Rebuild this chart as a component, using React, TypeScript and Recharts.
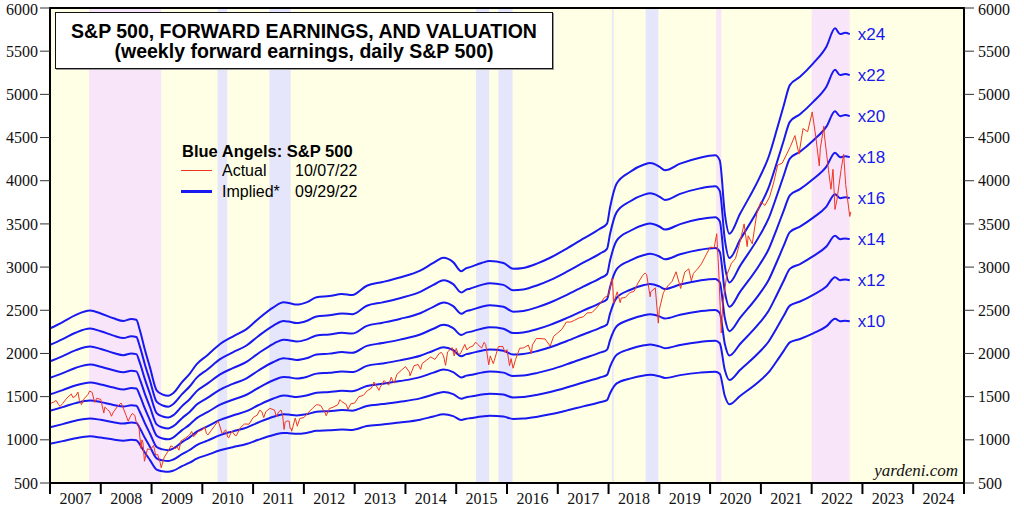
import { LineChart, Line, XAxis, YAxis, ReferenceArea } from 'recharts';

const fwdEps: [number, number][] = [
  [2007.0, 95.4], [2007.25, 98.5], [2007.5, 101.8], [2007.79, 104.0], [2008.0, 102.6],
  [2008.25, 100.3], [2008.45, 99.0], [2008.6, 100.0], [2008.7, 99.6], [2008.77, 94.5],
  [2008.87, 85.0], [2008.97, 76.5], [2009.1, 65.5], [2009.22, 63.5], [2009.33, 62.9],
  [2009.43, 64.3], [2009.6, 69.5], [2009.75, 73.5], [2009.89, 78.2], [2010.1, 82.5],
  [2010.35, 87.9], [2010.6, 91.5], [2010.87, 95.1], [2011.1, 100.0], [2011.4, 105.6],
  [2011.6, 108.0], [2011.7, 107.7], [2011.86, 106.9], [2012.05, 108.0], [2012.25, 110.4],
  [2012.5, 111.0], [2012.75, 112.0], [2012.95, 111.5], [2013.24, 116.0], [2013.55, 117.8],
  [2013.89, 120.0], [2014.29, 123.3], [2014.55, 127.0], [2014.75, 129.5], [2014.94, 127.4],
  [2015.1, 123.0], [2015.2, 124.5], [2015.27, 125.0], [2015.5, 127.0], [2015.66, 127.9],
  [2015.93, 127.0], [2016.12, 124.2], [2016.32, 124.6], [2016.6, 126.8], [2016.85, 129.5],
  [2017.17, 133.8], [2017.5, 138.7], [2017.83, 143.5], [2017.97, 146.0], [2018.03, 153.9],
  [2018.16, 165.3], [2018.42, 170.9], [2018.7, 174.5], [2018.82, 175.2], [2019.0, 173.5],
  [2019.11, 171.7], [2019.41, 174.9], [2019.8, 177.8], [2020.1, 178.9], [2020.19, 176.5],
  [2020.29, 150.7], [2020.38, 141.1], [2020.59, 150.7], [2020.98, 168.5], [2021.15, 178.0],
  [2021.31, 191.0], [2021.45, 203.0], [2021.57, 212.8], [2021.77, 216.8], [2022.03, 223.3],
  [2022.29, 231.3], [2022.46, 240.2], [2022.56, 237.4], [2022.66, 238.0], [2022.75, 237.4],
];

// S&P 500 actual, [decimal year, index]
const spx: [number, number][] = [
  [2007.0, 1418], [2007.04, 1430], [2007.08, 1438], [2007.12, 1456], [2007.17, 1407], [2007.2, 1387],
  [2007.25, 1421], [2007.33, 1482], [2007.42, 1530], [2007.45, 1490], [2007.5, 1503], [2007.55, 1553],
  [2007.58, 1455], [2007.62, 1407], [2007.67, 1474], [2007.75, 1527], [2007.78, 1565], [2007.83, 1549],
  [2007.88, 1433], [2007.92, 1481], [2008.0, 1468], [2008.06, 1310], [2008.08, 1379], [2008.13, 1350],
  [2008.17, 1331], [2008.21, 1273], [2008.25, 1323], [2008.33, 1386], [2008.4, 1426], [2008.42, 1400],
  [2008.5, 1280], [2008.54, 1215], [2008.58, 1267], [2008.62, 1305], [2008.67, 1283], [2008.7, 1200],
  [2008.75, 1166], [2008.79, 900], [2008.81, 1000], [2008.83, 969], [2008.86, 752], [2008.92, 896],
  [2008.96, 888], [2009.0, 903], [2009.04, 935], [2009.08, 826], [2009.12, 830], [2009.17, 735],
  [2009.19, 677], [2009.25, 798], [2009.33, 873], [2009.38, 930], [2009.42, 919], [2009.46, 895],
  [2009.5, 919], [2009.54, 880], [2009.58, 987], [2009.67, 1021], [2009.75, 1057], [2009.79, 1097],
  [2009.83, 1036], [2009.92, 1096], [2010.0, 1115], [2010.05, 1150], [2010.08, 1074], [2010.11, 1056],
  [2010.17, 1104], [2010.25, 1169], [2010.31, 1217], [2010.33, 1187], [2010.39, 1071], [2010.42, 1089],
  [2010.46, 1116], [2010.5, 1031], [2010.52, 1022], [2010.58, 1102], [2010.65, 1048], [2010.67, 1049],
  [2010.75, 1141], [2010.83, 1183], [2010.92, 1181], [2011.0, 1258], [2011.08, 1286], [2011.13, 1343],
  [2011.17, 1327], [2011.21, 1257], [2011.25, 1326], [2011.33, 1364], [2011.42, 1345], [2011.46, 1268],
  [2011.5, 1321], [2011.55, 1345], [2011.58, 1292], [2011.61, 1120], [2011.63, 1204], [2011.67, 1219],
  [2011.71, 1216], [2011.73, 1129], [2011.75, 1131], [2011.76, 1099], [2011.83, 1253], [2011.87, 1158],
  [2011.92, 1247], [2012.0, 1258], [2012.08, 1312], [2012.17, 1366], [2012.25, 1408], [2012.33, 1398],
  [2012.42, 1310], [2012.44, 1278], [2012.5, 1362], [2012.58, 1379], [2012.67, 1407], [2012.71, 1465],
  [2012.75, 1441], [2012.83, 1412], [2012.87, 1353], [2012.92, 1416], [2013.0, 1426], [2013.08, 1498],
  [2013.17, 1515], [2013.25, 1569], [2013.33, 1598], [2013.38, 1669], [2013.42, 1631], [2013.48, 1573],
  [2013.5, 1606], [2013.58, 1686], [2013.67, 1633], [2013.72, 1725], [2013.75, 1682], [2013.78, 1656],
  [2013.83, 1757], [2013.92, 1806], [2014.0, 1848], [2014.08, 1783], [2014.09, 1741], [2014.17, 1859],
  [2014.25, 1872], [2014.3, 1815], [2014.33, 1884], [2014.42, 1924], [2014.5, 1960], [2014.58, 1931],
  [2014.67, 2003], [2014.71, 2011], [2014.75, 1972], [2014.79, 1862], [2014.83, 2018], [2014.92, 2068],
  [2014.96, 1972], [2015.0, 2059], [2015.04, 1992], [2015.08, 1995], [2015.17, 2105], [2015.21, 2040],
  [2015.25, 2068], [2015.33, 2086], [2015.38, 2131], [2015.42, 2107], [2015.5, 2063], [2015.55, 2129],
  [2015.58, 2104], [2015.64, 1868], [2015.67, 1972], [2015.73, 1882], [2015.75, 1920], [2015.83, 2079],
  [2015.92, 2080], [2015.96, 2013], [2016.0, 2044], [2016.05, 1859], [2016.08, 1940], [2016.12, 1829],
  [2016.17, 1932], [2016.25, 2060], [2016.33, 2065], [2016.42, 2097], [2016.48, 2001], [2016.5, 2099],
  [2016.58, 2174], [2016.67, 2171], [2016.75, 2168], [2016.85, 2085], [2016.92, 2199], [2017.0, 2239],
  [2017.08, 2279], [2017.17, 2364], [2017.25, 2363], [2017.33, 2384], [2017.42, 2412], [2017.5, 2423],
  [2017.58, 2470], [2017.67, 2472], [2017.75, 2519], [2017.83, 2575], [2017.92, 2648], [2018.0, 2674],
  [2018.07, 2873], [2018.08, 2824], [2018.1, 2581], [2018.17, 2714], [2018.23, 2588], [2018.25, 2641],
  [2018.33, 2648], [2018.42, 2705], [2018.5, 2718], [2018.58, 2816], [2018.67, 2902], [2018.72, 2931],
  [2018.75, 2914], [2018.82, 2656], [2018.83, 2712], [2018.92, 2760], [2018.98, 2351], [2019.0, 2507],
  [2019.08, 2704], [2019.17, 2784], [2019.25, 2834], [2019.33, 2946], [2019.42, 2752], [2019.5, 2942],
  [2019.58, 2980], [2019.63, 2840], [2019.67, 2926], [2019.75, 2977], [2019.83, 3038], [2019.92, 3141],
  [2020.0, 3231], [2020.08, 3226], [2020.13, 3386], [2020.17, 2954], [2020.22, 2237], [2020.25, 2585],
  [2020.33, 2912], [2020.42, 3044], [2020.5, 3100], [2020.58, 3271], [2020.67, 3500], [2020.73, 3237],
  [2020.75, 3363], [2020.83, 3270], [2020.92, 3622], [2021.0, 3756], [2021.08, 3714], [2021.17, 3811],
  [2021.25, 3973], [2021.33, 4181], [2021.42, 4204], [2021.5, 4298], [2021.58, 4395], [2021.67, 4523],
  [2021.75, 4308], [2021.83, 4605], [2021.92, 4567], [2022.0, 4766], [2022.01, 4797], [2022.08, 4516],
  [2022.15, 4171], [2022.17, 4374], [2022.24, 4631], [2022.25, 4530], [2022.33, 4132], [2022.38, 3901],
  [2022.42, 4132], [2022.46, 3667], [2022.5, 3785], [2022.58, 4130], [2022.63, 4305], [2022.67, 3955],
  [2022.75, 3586], [2022.77, 3639],
];

const multiples = [10, 12, 14, 16, 18, 20, 22, 24];
const yTicks = [500, 1000, 1500, 2000, 2500, 3000, 3500, 4000, 4500, 5000, 5500, 6000];
const yearTicks = [2007, 2008, 2009, 2010, 2011, 2012, 2013, 2014, 2015, 2016, 2017, 2018, 2019, 2020, 2021, 2022, 2023, 2024, 2025];
const bearMarkets: [number, number][] = [[2007.77, 2009.19], [2020.12, 2020.22], [2022.0, 2022.75]];
const corrections: [number, number][] = [
  [2010.3, 2010.49], [2011.32, 2011.74], [2015.39, 2015.65], [2015.83, 2016.11], [2018.07, 2018.1], [2018.73, 2018.98],
];

const impliedData = fwdEps.map(([t, e]) => {
  const row: Record<string, number> = { t };
  multiples.forEach(m => { row['x' + m] = e * m; });
  return row;
});
const spxData = spx.map(([t, v]) => ({ t, spx: v }));

const W = 1024;
const H = 519;
const PLOT_L = 50;
const PLOT_R = 964;
const HALF_YEAR = (PLOT_R - PLOT_L) / 18 / 2;

const SANS = '"Liberation Sans", Arial, sans-serif';
const SERIF = '"Liberation Serif", "Times New Roman", serif';
const BLUE = '#1818f0';
const RED = '#ee3524';

const YearTick = (props: any) => {
  const { x, y, payload } = props;
  if (payload.value >= 2025) return <g />;
  return (
    <text x={x + HALF_YEAR} y={y + 8} textAnchor="middle" fontSize={16} fontFamily={SERIF} fill="#111">
      {payload.value}
    </text>
  );
};

export default function App() {
  const last = impliedData.length - 1;
  return (
    <div style={{ position: 'absolute', left: 0, top: 0, width: W, height: H, background: '#fff', overflow: 'hidden' }}>
      <LineChart width={W} height={H} data={impliedData} margin={{ top: 8, right: 0, bottom: 0, left: 0 }}>
        <XAxis
          dataKey="t" type="number" domain={[2007, 2025]} ticks={yearTicks} allowDataOverflow
          height={36} tickSize={11} tickMargin={2} tick={<YearTick />}
          axisLine={{ stroke: '#000', strokeWidth: 2 }} tickLine={{ stroke: '#000', strokeWidth: 2 }}
        />
        <YAxis
          yAxisId="l" orientation="left" domain={[500, 6000]} ticks={yTicks} width={PLOT_L} allowDataOverflow
          tickSize={10} tickMargin={2} tick={{ fill: '#111', fontSize: 16, fontFamily: SERIF }}
          axisLine={{ stroke: '#000', strokeWidth: 2 }} tickLine={{ stroke: '#333', strokeWidth: 1 }}
        />
        <YAxis
          yAxisId="r" orientation="right" domain={[500, 6000]} ticks={yTicks} width={W - PLOT_R} allowDataOverflow
          tickSize={10} tickMargin={4} tick={{ fill: '#111', fontSize: 16, fontFamily: SERIF }}
          axisLine={{ stroke: '#000', strokeWidth: 2 }} tickLine={{ stroke: '#333', strokeWidth: 1 }}
        />
        <ReferenceArea yAxisId="l" x1={2007} x2={2025} y1={500} y2={6000} fill="#ffffe6" fillOpacity={1} stroke="none" />
        {bearMarkets.map(([a, b], i) => (
          <ReferenceArea key={'b' + i} yAxisId="l" x1={a} x2={b} y1={500} y2={6000} fill="#f9e5fa" fillOpacity={1} stroke="none" />
        ))}
        {corrections.map(([a, b], i) => (
          <ReferenceArea key={'c' + i} yAxisId="l" x1={a} x2={b} y1={500} y2={6000} fill="#e5e6fb" fillOpacity={1} stroke="none" />
        ))}
        {multiples.map(m => (
          <Line
            key={m} yAxisId="l" dataKey={'x' + m} type="monotone" stroke={BLUE} strokeWidth={2}
            dot={false} activeDot={false} isAnimationActive={false}
            label={(p: any) =>
              p.index === last ? (
                <text key={'lab' + m} x={p.x + 8} y={p.y} dy={6} fill={BLUE} fontSize={17} fontFamily={SANS}>
                  {'x' + m}
                </text>
              ) : (
                <g key={'n' + m + '-' + p.index} />
              )
            }
          />
        ))}
        <Line
          yAxisId="l" data={spxData} dataKey="spx" type="linear" stroke={RED} strokeWidth={1}
          dot={false} activeDot={false} isAnimationActive={false}
        />
        <ReferenceArea yAxisId="l" x1={2007} x2={2025} y1={500} y2={6000} fill="none" stroke="#000" strokeWidth={2} />
      </LineChart>

      <div style={{
        position: 'absolute', left: 55, top: 12, width: 498, height: 57, border: '1.5px solid #111',
        background: '#fff', boxShadow: '1px 1px 0 #999', fontFamily: SANS, fontWeight: 700, fontSize: 19.5,
        lineHeight: '20px', textAlign: 'center', paddingTop: 8, boxSizing: 'border-box', color: '#000',
      }}>
        <div>S&amp;P 500, FORWARD EARNINGS, AND VALUATION</div>
        <div>(weekly forward earnings, daily S&amp;P 500)</div>
      </div>

      <div style={{ position: 'absolute', left: 182, top: 142, fontFamily: SANS, fontWeight: 700, fontSize: 16.5, color: '#000' }}>
        Blue Angels: S&amp;P 500
      </div>
      <div style={{ position: 'absolute', left: 181, top: 170, width: 31, height: 1, background: RED }} />
      <div style={{ position: 'absolute', left: 181, top: 190, width: 31, height: 2.5, background: BLUE }} />
      <div style={{ position: 'absolute', left: 222, top: 162, fontFamily: SANS, fontSize: 16, color: '#000' }}>Actual</div>
      <div style={{ position: 'absolute', left: 295, top: 162, fontFamily: SANS, fontSize: 16, color: '#000' }}>10/07/22</div>
      <div style={{ position: 'absolute', left: 222, top: 183, fontFamily: SANS, fontSize: 16, color: '#000' }}>Implied*</div>
      <div style={{ position: 'absolute', left: 295, top: 183, fontFamily: SANS, fontSize: 16, color: '#000' }}>09/29/22</div>

      <div style={{ position: 'absolute', right: W - 958, top: 461, fontFamily: SERIF, fontStyle: 'italic', fontSize: 17, color: '#111' }}>
        yardeni.com
      </div>
    </div>
  );
}
